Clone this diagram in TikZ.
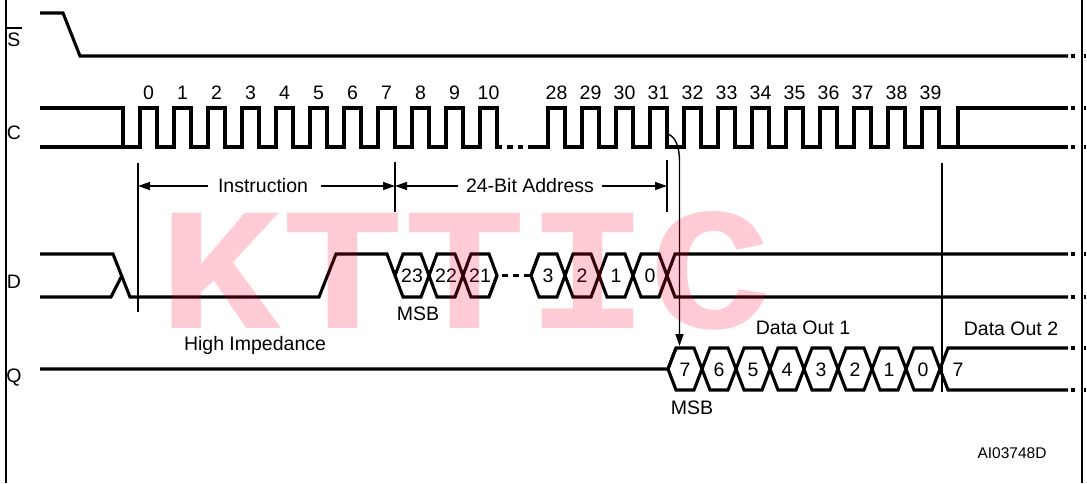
\documentclass[tikz,border=0pt]{standalone}
\usepackage{fontspec}
\setmainfont{Liberation Sans}
\newfontfamily\wmfont{Liberation Mono}
\usetikzlibrary{arrows.meta,calc}
\definecolor{wmred}{RGB}{255,0,51}
\begin{document}
\begin{tikzpicture}[x=1pt,y=-1pt,
  sig/.style={line width=3.1pt,line join=miter,line cap=butt},
  thinl/.style={line width=1.4pt},
  lbl/.style={font=\fontsize{19.5}{22}\selectfont,inner sep=0pt},
  small/.style={font=\fontsize{15.5}{18}\selectfont,inner sep=0pt},
  dimarrow/.style={thinl,-{Triangle[length=12pt,width=8pt]}},
  wm/.style={font=\wmfont\bfseries\fontsize{175}{175}\selectfont,text=wmred,text opacity=0.2,inner sep=0pt,xscale=1.17}]
\useasboundingbox (0,0) rectangle (1087,483);
% frame
\draw[line width=2pt] (6,0) -- (6,483);
\draw[line width=2pt] (1082,0) -- (1082,483);
% signal names
\node[lbl] (sl) at (14,40) {S};
\draw[thinl] ($(sl.north west)+(0,-5)$) -- ($(sl.north east)+(1,-5)$);
\node[lbl] (cl) at (14,133) {C};
\node[lbl] (dl) at (14,282) {D};
\node[lbl] (ql) at (14,378) {Q};
% S
\draw[sig] (40,13) -- (63,13) -- (80,56) -- (1068,56);
% C
\draw[sig] (40,108) -- (123,108) -- (123,147) -- (140,147)
  \foreach \i in {0,...,10} { -- ({140+34*\i},147) -- ({140+34*\i},108) -- ({157+34*\i},108) -- ({157+34*\i},147) } -- (502,147);
\draw[sig] (40,147) -- (123,147);
\draw[sig] (507,147) -- (513,147) (518,147) -- (523,147);
\draw[sig] (528,147)
  \foreach \i in {12,...,23} { -- ({140+34*\i},147) -- ({140+34*\i},108) -- ({157+34*\i},108) -- ({157+34*\i},147) } -- (958,147) -- (958,108) -- (1068,108);
\draw[sig] (958,147) -- (1068,147);
\foreach \i in {0,...,10} { \node[lbl] (n\i) at ({148.5+34*\i},93) {\i}; }
\foreach \i [evaluate=\i as \lab using int(\i+16)] in {12,...,23} { \node[lbl] (n\i) at ({148.5+34*\i},93) {\lab}; }
% D
\draw[sig] (40,254) -- (113,254) -- (130,297) -- (319,297) -- (336,254) -- (387,254) -- (403,297)
  -- (421,297) -- (437,254) -- (455,254) -- (471,297) -- (489,297) -- (497,275.5);
\draw[sig] (40,297) -- (111,297) -- (121.7,276);
\draw[sig] (395,275.5) -- (403,254) -- (421,254) -- (437,297) -- (455,297) -- (471,254) -- (489,254) -- (497,275.5) -- (489,297);
\draw[sig] (502,275.5) -- (508,275.5) (513,275.5) -- (519,275.5) (524,275.5) -- (530,275.5);
\draw[sig] (531,275.5) -- (539,254) -- (557,254) -- (573,297) -- (591,297) -- (607,254) -- (625,254) -- (641,297) -- (659,297) -- (675,254) -- (1068,254);
\draw[sig] (539,254) -- (531,275.5) -- (539,297) -- (557,297) -- (573,254) -- (591,254) -- (607,297) -- (625,297) -- (641,254) -- (659,254) -- (675,297) -- (1068,297);
\node[lbl] (d23) at (412,276) {23};
\node[lbl] (d22) at (446,276) {22};
\node[lbl] (d21) at (480,276) {21};
\node[lbl] (d3) at (548,276) {3};
\node[lbl] (d2) at (582,276) {2};
\node[lbl] (d1) at (616,276) {1};
\node[lbl] (d0) at (650,276) {0};
% Q
\draw[sig] (40,369) -- (668,369) -- (676,348) -- (694,348) -- (710,390) -- (728,390) -- (744,348) -- (762,348) -- (778,390) -- (796,390) -- (812,348) -- (830,348) -- (846,390) -- (864,390) -- (880,348) -- (898,348) -- (914,390) -- (932,390) -- (948,348) -- (1068,348);
\draw[sig] (676,348) -- (668,369) -- (676,390) -- (694,390) -- (710,348) -- (728,348) -- (744,390) -- (762,390) -- (778,348) -- (796,348) -- (812,390) -- (830,390) -- (846,348) -- (864,348) -- (880,390) -- (898,390) -- (914,348) -- (932,348) -- (948,390) -- (1068,390);
\foreach \k/\v in {0/7,1/6,2/5,3/4,4/3,5/2,6/1,7/0} { \node[lbl] (q\k) at ({685+34*\k},370) {\v}; }
\node[lbl] (q8) at (958,370) {7};
% line ends
\foreach \yy in {56,108,147,254,297,348,390} {
  \draw[sig] (1070.5,\yy) -- (1075,\yy);
  \draw[sig] (1083.5,\yy) -- (1086,\yy);
}
% markers
\coordinate (m1t) at (138,163); \coordinate (m1b) at (138,312);
\coordinate (m2t) at (395,162); \coordinate (m2b) at (395,212);
\coordinate (m3t) at (667,160); \coordinate (m3b) at (667,212);
\coordinate (m4t) at (942,163); \coordinate (m4b) at (942,392);
\draw[thinl] (m1t) -- (m1b);
\draw[thinl] (m2t) -- (m2b);
\draw[thinl] (m3t) -- (m3b);
\draw[thinl] (m4t) -- (m4b);
% dimension labels
\node[lbl] (instr) at (263,186) {Instruction};
\node[lbl] (addr) at (530,186) {24-Bit Address};
\draw[dimarrow] ($(instr.west)+(-10,0)$) -- (m1t |- instr.west);
\draw[dimarrow] ($(instr.east)+(13,0)$) -- (m2t |- instr.east);
\draw[dimarrow] ($(addr.west)+(-8,0)$) -- (m2t |- addr.west);
\draw[dimarrow] ($(addr.east)+(8,0)$) -- (m3t |- addr.east);
% curved arrow
\coordinate (cfall) at (668,134);
\coordinate (qtop) at (679.5,346);
\draw[thinl,-{Triangle[length=12pt,width=8pt]}] (cfall) .. controls (675,137) and (679.5,145) .. (679.5,162) -- (qtop);
% other labels
\node[lbl] (hiz) at (255,345) {High Impedance};
\node[lbl] (msb1) at (418,314) {MSB};
\node[lbl] (msb2) at (692,408) {MSB};
\node[lbl] (do1) at (803,328) {Data Out 1};
\node[lbl] (do2) at (1011,329) {Data Out 2};
\node[small] (ref) at (1012,453) {AI03748D};
% watermark
\node[wm,anchor=base west] (wmk) at (158,328) {KTTIC};
\end{tikzpicture}
\end{document}
